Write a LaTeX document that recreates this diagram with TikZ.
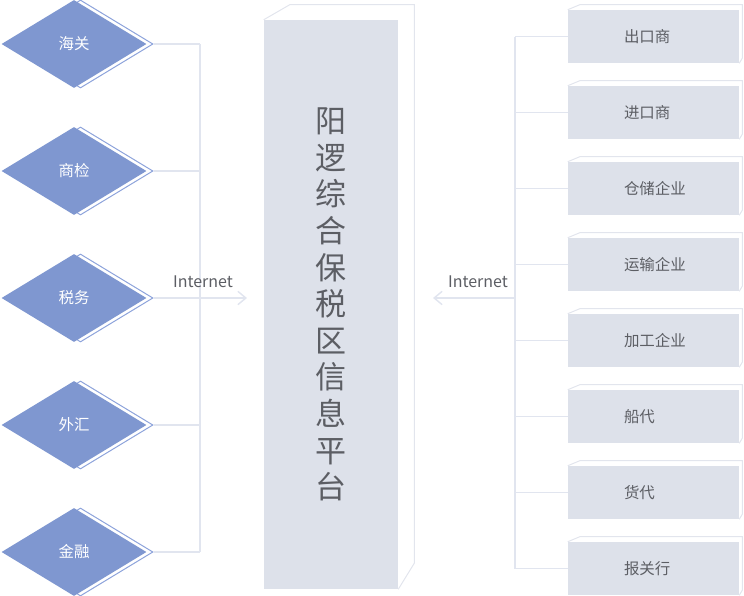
\documentclass[tikz,border=0pt]{standalone}
\usepackage{fontspec}
\setmainfont{Noto Sans CJK SC}
\usetikzlibrary{shapes.geometric,arrows.meta,calc}

\definecolor{dmdfill}{RGB}{127,151,208}
\definecolor{dmdline}{RGB}{141,163,219}
\definecolor{boxfill}{RGB}{221,225,234}
\definecolor{rimgray}{RGB}{226,229,237}
\definecolor{wiregray}{RGB}{225,229,239}
\definecolor{txtgray}{RGB}{92,94,100}

\begin{document}
\begin{tikzpicture}[x=0.75pt,y=0.75pt,yscale=-1,xscale=1,
  dept/.style={diamond,fill=dmdfill,inner sep=0pt,minimum width=108.75pt,minimum height=66pt,text=white,font=\fontsize{11.6pt}{14pt}\selectfont},
  deptrim/.style={diamond,draw=dmdline,line width=0.75pt,inner sep=0pt,minimum width=108.75pt,minimum height=66pt},
  firm/.style={rectangle,fill=boxfill,inner sep=0pt,minimum width=128.25pt,minimum height=39.75pt,text width=44.25pt,align=left,text=txtgray,font=\fontsize{11.6pt}{14pt}\selectfont},
  rim/.style={draw=rimgray,line width=0.75pt},
  wire/.style={draw=wiregray,line width=1.1pt},
  netlbl/.style={inner sep=0.75pt,text=txtgray,font=\fontsize{12pt}{14pt}\selectfont}]
\useasboundingbox (0,0) rectangle (744,596);

%Shape: Diamond outlines
\node[deptrim] (t1) at (80.5,44) {};
\node[deptrim] (t2) at (80.5,171) {};
\node[deptrim] (t3) at (80.5,298) {};
\node[deptrim] (t4) at (80.5,425) {};
\node[deptrim] (t5) at (80.5,552) {};
%Shape: Diamonds
\node[dept] (d1) at (74,44) {海关};
\node[dept] (d2) at (74,171) {商检};
\node[dept] (d3) at (74,298) {税务};
\node[dept] (d4) at (74,425) {外汇};
\node[dept] (d5) at (74,552) {金融};

%Shape: Platform
\node[rectangle,fill=boxfill,inner sep=0pt,minimum width=100.5pt,minimum height=426.75pt,text=txtgray,align=center,font=\fontsize{23.25pt}{27.45pt}\selectfont] (hub) at (331,304.5) {阳\\逻\\综\\合\\保\\税\\区\\信\\息\\平\\台};
\draw[rim] (hub.north west) -- ++(26,-15) -- ($(hub.north east)+(16,-15)$) -- ($(hub.south east)+(16,-26)$) -- (hub.south east);

%Shape: Firms
\node[firm] (f1) at (653.5,36.5) {出口商};
\node[firm] (f2) at (653.5,112.5) {进口商};
\node[firm] (f3) at (653.5,188.5) {仓储企业};
\node[firm] (f4) at (653.5,264.5) {运输企业};
\node[firm] (f5) at (653.5,340.5) {加工企业};
\node[firm] (f6) at (653.5,416.5) {船代};
\node[firm] (f7) at (653.5,492.5) {货代};
\node[firm] (f8) at (653.5,568.5) {报关行};
\draw[rim] (f1.north west) -- ++(12,-5) -- ($(f1.north east)+(3,-5)$) -- ($(f1.south east)+(3,-5)$) -- (f1.south east);
\draw[rim] (f2.north west) -- ++(12,-5) -- ($(f2.north east)+(3,-5)$) -- ($(f2.south east)+(3,-5)$) -- (f2.south east);
\draw[rim] (f3.north west) -- ++(12,-5) -- ($(f3.north east)+(3,-5)$) -- ($(f3.south east)+(3,-5)$) -- (f3.south east);
\draw[rim] (f4.north west) -- ++(12,-5) -- ($(f4.north east)+(3,-5)$) -- ($(f4.south east)+(3,-5)$) -- (f4.south east);
\draw[rim] (f5.north west) -- ++(12,-5) -- ($(f5.north east)+(3,-5)$) -- ($(f5.south east)+(3,-5)$) -- (f5.south east);
\draw[rim] (f6.north west) -- ++(12,-5) -- ($(f6.north east)+(3,-5)$) -- ($(f6.south east)+(3,-5)$) -- (f6.south east);
\draw[rim] (f7.north west) -- ++(12,-5) -- ($(f7.north east)+(3,-5)$) -- ($(f7.south east)+(3,-5)$) -- (f7.south east);
\draw[rim] (f8.north west) -- ++(12,-5) -- ($(f8.north east)+(3,-5)$) -- ($(f8.south east)+(3,-5)$) -- (f8.south east);

%Straight Lines: left bus
\coordinate (bl1) at (200,44);
\coordinate (bl2) at (200,171);
\coordinate (bl4) at (200,425);
\coordinate (bl5) at (200,552);
\coordinate (inL) at (247,298);
\draw[wire] (bl1) -- (bl5);
\draw[wire] (t1.east) -- (bl1);
\draw[wire] (t2.east) -- (bl2);
\draw[wire] (t4.east) -- (bl4);
\draw[wire] (t5.east) -- (bl5);
\draw[wire,-{Straight Barb[length=6pt,width=10pt]}] (t3.east) -- (inL);

%Straight Lines: right bus
\coordinate (br1) at (515,36.5);
\coordinate (br2) at (515,112.5);
\coordinate (br3) at (515,188.5);
\coordinate (br4) at (515,264.5);
\coordinate (br5) at (515,340.5);
\coordinate (br6) at (515,416.5);
\coordinate (br7) at (515,492.5);
\coordinate (br8) at (515,568.5);
\coordinate (outR) at (515,298);
\coordinate (inR) at (433,298);
\draw[wire] (br1) -- (br8);
\draw[wire] (br1) -- (f1.west);
\draw[wire] (br2) -- (f2.west);
\draw[wire] (br3) -- (f3.west);
\draw[wire] (br4) -- (f4.west);
\draw[wire] (br5) -- (f5.west);
\draw[wire] (br6) -- (f6.west);
\draw[wire] (br7) -- (f7.west);
\draw[wire] (br8) -- (f8.west);
\draw[wire,-{Straight Barb[length=6pt,width=10pt]}] (outR) -- (inR);

% Text Node
\node[netlbl] (netL) at (203,282) {Internet};
% Text Node
\node[netlbl] (netR) at (478,282) {Internet};

\end{tikzpicture}
\end{document}
